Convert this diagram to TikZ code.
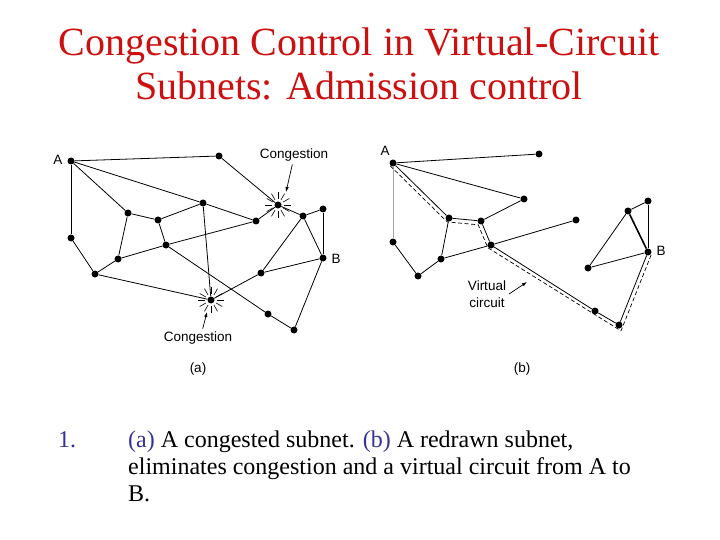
\documentclass[tikz,border=0pt]{standalone}
\usepackage{fontspec}
\setmainfont{Liberation Serif}
\setsansfont{Liberation Sans}
\usepackage{xcolor}
\usetikzlibrary{arrows.meta}

\definecolor{titlered}{RGB}{204,16,16}
\definecolor{capblue}{RGB}{51,51,153}

\begin{document}
\begin{tikzpicture}[x=1pt,y=-1pt,>={Latex[length=5pt,width=3.5pt]},
  router/.style={circle,fill=black,inner sep=0pt,minimum size=7pt},
  link/.style={line width=0.8pt},
  lbl/.style={font=\sffamily\fontsize{13.5}{16}\selectfont,inner sep=0pt}]
\useasboundingbox (0,0) rectangle (720,540);

% title
\node[anchor=north,inner sep=0pt,align=center,text=titlered,font=\fontsize{40}{44}\selectfont] (title) at (359,28) {Congestion Control in Virtual-Circuit\\Subnets: Admission control};

% (a) congested subnet
\foreach \name/\pos in {aA/{(71,161)},a1/{(219,156)},c1/{(278,205)},a3/{(323,209)},a4/{(303,216)},aB/{(323,258)},
  a5/{(203,203)},a6/{(128,213)},a7/{(158,220)},a8/{(256,221)},a9/{(71,238)},a10/{(166,245)},
  a11/{(118,259)},a12/{(95,274)},a13/{(261,273)},c2/{(211,300)},a14/{(268,314)},a15/{(294,330)}}
  \node[router] (\name) at \pos {};
\foreach \u/\v in {aA/a1,a1/c1,aA/a5,a5/a8,aA/a6,aA/a9,a9/a12,a12/a11,a11/a6,a6/a7,a7/a5,a5/c2,a7/a10,
  a11/a10,a10/a8,a8/c1,a10/a14,a14/a15,a15/aB,aB/a3,a3/a4,c1/a4,a4/aB,a4/a13,a13/aB,a13/c2,a12/c2}
  \draw[link] (\u) -- (\v);
% congestion bursts
\foreach \c in {c1,c2}
  \foreach \ang in {0,30,...,330}
    \draw[line width=0.6pt] (\c) ++(\ang:6) -- ++(\ang:7);
\node[lbl] at (58,160) {A};
\node[lbl] at (336,259) {B};
\node[lbl] (cong1) at (294,155) {Congestion};
\node[lbl] (cong2) at (198,338) {Congestion};
\coordinate (c1tip) at (286,192);
\coordinate (c2tip) at (207,312);
\draw[->,line width=0.7pt,shorten <=3pt] ([xshift=-1pt]cong1.south) -- (c1tip);
\draw[->,line width=0.7pt,shorten <=3pt] ([xshift=4pt]cong2.north) -- (c2tip);
\node[lbl] (capa) at (198,369) {(a)};

% (b) redrawn subnet
\foreach \name/\pos in {bA/{(393,163)},b1/{(539,154)},b2/{(524,199)},b3/{(576,220)},b4/{(449,218)},
  b5/{(481,221)},b6/{(491,245)},b7/{(393,242)},b8/{(441,259)},b9/{(418,276)},b10/{(595,311)},
  b11/{(619,325)},bB/{(648,252)},b12/{(628,211)},b13/{(648,201)},b14/{(588,268)}}
  \node[router] (\name) at \pos {};
\foreach \u/\v in {bA/b1,bA/b2,b2/b5,bA/b4,b7/b9,b9/b8,b8/b4,b4/b5,b5/b6,b8/b6,b6/b3,
  b6/b10,b10/b11,b11/bB,bB/b13,b13/b12,b12/b14,b14/bB}
  \draw[link] (\u) -- (\v);
\draw[link,gray!70] (bA) -- (b7);
\draw[line width=1.6pt] (b12) -- (bB);
% virtual circuit
\coordinate (v0) at (390.2,165.8);
\coordinate (v1) at (447.2,221.9);
\coordinate (v2) at (478.2,224.8);
\coordinate (v3) at (487.8,247.7);
\coordinate (v4) at (621,330.9);
\coordinate (v5) at (651.7,253.5);
\draw[line width=0.7pt,dash pattern=on 4pt off 2.5pt] (v0) -- (v1) -- (v2) -- (v3) -- (v4) -- (v5);
\node[lbl] at (385,151) {A};
\node[lbl] at (661,251) {B};
\node[lbl,align=center,font=\sffamily\fontsize{13.5}{17}\selectfont] (vc) at (487,294) {Virtual\\circuit};
\coordinate (vctip) at (527,282);
\draw[->,line width=0.7pt] (509,294) -- (vctip);
\node[lbl] (capb) at (522,369) {(b)};

% caption
\node[anchor=base west,inner sep=0pt,text=capblue,font=\fontsize{24}{27}\selectfont] (num) at (58,447) {1.};
\node[anchor=north west,inner sep=0pt,align=left,font=\fontsize{24}{27}\selectfont] (cap) at (128,430.5)
  {{\color{capblue}(a)} A congested subnet. {\color{capblue}(b)} A redrawn subnet,\\
   eliminates congestion and a virtual circuit from A to\\
   B.};
\end{tikzpicture}
\end{document}
